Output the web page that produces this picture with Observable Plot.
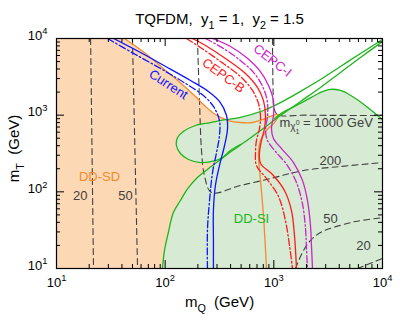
<!DOCTYPE html>
<html><head><meta charset="utf-8">
<script src="https://cdn.jsdelivr.net/npm/d3@7"></script>
<script src="https://cdn.jsdelivr.net/npm/@observablehq/plot@0.6"></script>
<style>body{margin:0;background:#fff}</style>
</head><body><div id="chart"></div>
<script>
// ---- text ----
const titleText = "TQFDM,\u00a0 y_{1} = 1,\u00a0 y_{2} = 1.5";
const xLabel = "m_{Q}\u00a0 (GeV)";
const yLabel = "m_{T}\u00a0 (GeV)";
const mchiText = "m_chi = 1000 GeV";

// ---- ticks ----
const decadeTicks = [10, 100, 1000, 10000];
const decadeLabels = ["10^{1}", "10^{2}", "10^{3}", "10^{4}"];
const minorTicks = [20,30,40,50,60,70,80,90,200,300,400,500,600,700,800,900,2000,3000,4000,5000,6000,7000,8000,9000];

// ---- curves: [mQ (GeV), mT (GeV)] ----
const currentSolid = [[33.5,10000],[59.3,6560],[101,4315],[171,2830],[250,2040],[316,1510],[367,990],[375,670],[352,402],[316,220],[290,121],[278,57],[278,23],[278,10]];
const currentDashDot = [[29.5,10000],[53.3,6180],[90.6,4060],[154,2590],[225,1800],[278,1300],[316,851],[316,543],[297,326],[273,179],[256,77],[245,31.3],[245,10]];
const cepcBSolid = [[178,10000],[235,8100],[359,5480],[548,3490],[707,2300],[803,1550],[838,990],[820,670],[770,468],[738,326],[754,234],[972,168],[1253,104],[1453,57],[1549,26.9],[1616,10]];
const cepcBDashDot = [[157,10000],[211,7640],[323,5010],[493,3190],[636,2100],[722,1420],[754,960],[738,670],[692,468],[678,326],[692,220],[856,149],[1104,87],[1280,42],[1393,20],[1485,10]];
const cepcISolid = [[273,10000],[399,7870],[560,5650],[738,3830],[893,2440],[992,1550],[992,990],[951,670],[992,497],[1176,367],[1517,241],[1834,141],[2040,77],[2174,36.4],[2220,20],[2268,10]];
const cepcIDashDot = [[235,10000],[344,7410],[493,5160],[664,3490],[803,2230],[874,1460],[874,960],[838,650],[874,468],[1036,336],[1335,220],[1616,132],[1834,70],[1956,33.3],[1997,18.2],[2040,10]];
const ddsdBoundary = [[42.2,10000],[65.9,6370],[101,3830],[144,2510],[190,1750],[235,1300],[290,1020],[383,851],[493,802],[636,802],[786,877],[972,990],[1104,1020],[1014,802],[856,631],[754,468],[722,326],[754,141],[803,49],[856,10]];
const ddsiOuter = [[94.5,10],[98.6,17.2],[107,29.5],[119,53.8],[138,77],[161,110],[198,154],[245,196],[323,264],[417,346],[548,453],[754,631],[1151,990],[1759,1510],[2687,2300],[4104,3600],[6270,5650],[10000,9140]];
const ddsiLobe = [[493,414],[399,346],[337,281],[290,256],[211,241],[164,264],[138,316],[127,402],[130,512],[147,612],[190,733],[261,802],[359,877],[493,933],[803,1150],[1151,1460],[1759,2040],[2687,2920],[4104,4315],[6270,6370],[10000,9700]];
const ddsiRight = [[1014,905],[1201,1080],[1485,1260],[1956,1550],[2576,1918],[3183,2160],[4104,2100],[5291,1750],[7120,1300],[10000,877]];

// ---- neutralino mass contours (dashed) ----
const mchi20a = [[20.6,10000],[21.9,10]];
const mchi50a = [[50.0,10000],[55.7,10]];
const mchi200 = [[198,10000],[207,1550],[216,346],[230,163],[267,98],[493,121],[931,149],[1874,190],[4104,214],[10000,241]];
const mchi1000 = [[972,10000],[985,2000],[1000,1250],[1080,1020],[2000,1000],[10000,990]];
const mchi50b = [[1582,10],[1834,16.2],[2174,23.2],[2687,29.5],[3539,34.3],[5640,41],[10000,46]];
const mchi20b = [[5890,10],[10000,13.5]];

// ---- labels ----
const contourLabelText = ["20","50","200","50","20"];
const contourLabelMQ = [16.5, 43.1, 3320, 3320, 6680];
const contourLabelMT = [90, 90, 256, 45, 20];
const regionLabelText = ["DD-SD", "DD-SI"];
const regionLabelMQ = [24.9, 623];
const regionLabelMT = [158, 45];
const curveLabelText = ["Current", "CEPC-B", "CEPC-I"];
const curveLabelMQ = [107, 344, 972];
const curveLabelMT = [2510, 3290, 5160];
const curveLabelAngle = [33, 36, 38];
const mchiLabelMQ = [1128];
const mchiLabelMT = [802];

// ---- colours ----
const C = {orangeFill:"#fdd8b5", greenFill:"#d7ead3", orange:"#f58a2e", green:"#1cb51c",
  blue:"#0a14ff", red:"#ff1a1a", magenta:"#cc22cc", gray:"#404040"};

const fw = 407 - 56 - 25, fh = 326 - 38 - 58;
const P = {x: d => d[0], y: d => d[1], curve: "catmull-rom", clip: true};
const DASHDOT = "7,2.5,1.5,2.5";
const ln = (data, stroke, dash) => Plot.line(data, {...P, stroke, strokeWidth: 1.3, strokeDasharray: dash});
const dashed = data => Plot.line(data, {...P, stroke: C.gray, strokeWidth: 1.1, strokeDasharray: "6,4"});

const orangeFill = [[5,5],[5,14000],[38,12000], ...ddsdBoundary, [870,5]];
const greenFill = [[90,5], ...ddsiOuter.slice(0, 8), ...ddsiLobe.slice(2, 15), ...ddsiRight, [14000,600], [14000,5]];

const tbl = (xs, ys, ts, extra) => xs.map((x, i) => ({x, y: ys[i], t: ts[i], a: extra ? extra[i] : 0}));

const plot = Plot.plot({
  width: 407, height: 326, marginLeft: 56, marginRight: 25, marginTop: 38, marginBottom: 58,
  x: {type: "log", domain: [10, 10000], axis: null},
  y: {type: "log", domain: [10, 10000], axis: null},
  style: {fontFamily: "'Liberation Sans', Arial, sans-serif", background: "#fff", overflow: "visible"},
  marks: [
    Plot.line(orangeFill, {...P, fill: C.orangeFill, stroke: "none"}),
    Plot.line(greenFill, {...P, fill: C.greenFill, stroke: "none"}),
    dashed(mchi20a), dashed(mchi50a), dashed(mchi200), dashed(mchi1000), dashed(mchi50b), dashed(mchi20b),
    ln(ddsdBoundary, C.orange),
    ln(ddsiOuter, C.green), ln(ddsiLobe, C.green), ln(ddsiRight, C.green),
    ln(currentSolid, C.blue), ln(currentDashDot, C.blue, DASHDOT),
    ln(cepcBSolid, C.red), ln(cepcBDashDot, C.red, DASHDOT),
    ln(cepcISolid, C.magenta), ln(cepcIDashDot, C.magenta, DASHDOT),
    Plot.text(tbl(contourLabelMQ, contourLabelMT, contourLabelText), {x: "x", y: "y", text: "t", fill: C.gray, fontSize: 13}),
    Plot.text(tbl(regionLabelMQ, regionLabelMT, regionLabelText), {x: "x", y: "y", text: "t", fill: (d, i) => i === 0 ? C.orange : C.green, fontSize: 13}),
    Plot.text(tbl(curveLabelMQ, curveLabelMT, curveLabelText, curveLabelAngle), {x: "x", y: "y", text: "t", rotate: "a", fill: (d, i) => [C.blue, C.red, C.magenta][i], fontSize: 13}),
    Plot.text(tbl(mchiLabelMQ, mchiLabelMT, [mchiText]), {x: "x", y: "y", text: "t", fill: C.gray, fontSize: 13, textAnchor: "start"}),
    // ticks
    Plot.tickX(decadeTicks, {x: d => d, insetTop: fh - 8, stroke: "#000"}),
    Plot.tickX(decadeTicks, {x: d => d, insetBottom: fh - 8, stroke: "#000"}),
    Plot.tickX(minorTicks, {x: d => d, insetTop: fh - 4, stroke: "#000"}),
    Plot.tickX(minorTicks, {x: d => d, insetBottom: fh - 4, stroke: "#000"}),
    Plot.tickY(decadeTicks, {y: d => d, insetRight: fw - 8, stroke: "#000"}),
    Plot.tickY(decadeTicks, {y: d => d, insetLeft: fw - 8, stroke: "#000"}),
    Plot.tickY(minorTicks, {y: d => d, insetRight: fw - 4, stroke: "#000"}),
    Plot.tickY(minorTicks, {y: d => d, insetLeft: fw - 4, stroke: "#000"}),
    Plot.frame({stroke: "#000", strokeWidth: 1.2}),
    // tick labels
    Plot.text(decadeTicks.map((v, i) => ({x: v, y: 10, t: decadeLabels[i]})), {x: "x", y: "y", text: "t", dy: 14, fontSize: 13, fill: "#000"}),
    Plot.text(decadeTicks.map((v, i) => ({x: 10, y: v, t: decadeLabels[i]})), {x: "x", y: "y", text: "t", dx: -9, dy: -3, textAnchor: "end", fontSize: 13, fill: "#000"}),
    // titles
    Plot.text([titleText], {text: d => d, frameAnchor: "top", lineAnchor: "middle", textAnchor: "middle", dy: -19, fontSize: 15, fill: "#000"}),
    Plot.text([xLabel], {text: d => d, frameAnchor: "bottom", lineAnchor: "middle", textAnchor: "middle", dy: 34, fontSize: 15, fill: "#000"}),
    Plot.text([yLabel], {text: d => d, frameAnchor: "left", lineAnchor: "middle", textAnchor: "middle", rotate: -90, dx: -42, dy: -5, fontSize: 15, fill: "#000"})
  ]
});
document.getElementById("chart").append(plot);

// ---- rich text (sub/superscripts) ----
function parseRich(s, fs) {
  const toks = []; const re = /([_^])\{([^}]*)\}/g; let last = 0, m;
  while ((m = re.exec(s))) {
    if (m.index > last) toks.push({t: s.slice(last, m.index), off: 0, fs});
    toks.push({t: m[2], off: m[1] === "_" ? 0.3 * fs : -0.42 * fs, fs: 0.72 * fs});
    last = re.lastIndex;
  }
  if (last < s.length) toks.push({t: s.slice(last), off: 0, fs});
  return toks;
}
function mchiTokens(fs) {
  return [
    {t: "m", off: 0, fs},
    {t: "\u03c7", off: 0.25 * fs, fs: 0.78 * fs},
    {t: "0", off: -0.12 * fs, fs: 0.55 * fs},
    {t: "1", off: 0.55 * fs, fs: 0.55 * fs, dx: -0.32 * fs},
    {t: "\u00a0= 1000 GeV", off: 0, fs}
  ];
}
function applyRich(el, toks) {
  el.textContent = ""; let cur = 0;
  for (const k of toks) {
    const ts = document.createElementNS("http://www.w3.org/2000/svg", "tspan");
    ts.textContent = k.t; ts.setAttribute("font-size", k.fs);
    if (k.off - cur) ts.setAttribute("dy", k.off - cur);
    if (k.dx) ts.setAttribute("dx", k.dx);
    cur = k.off; el.appendChild(ts);
  }
}
plot.querySelectorAll("text").forEach(el => {
  const s = el.textContent;
  const fs = parseFloat(getComputedStyle(el).fontSize) || 13;
  if (s === mchiText) applyRich(el, mchiTokens(fs));
  else if (/[_^]\{/.test(s)) applyRich(el, parseRich(s, fs));
});
</script>
</body></html>
